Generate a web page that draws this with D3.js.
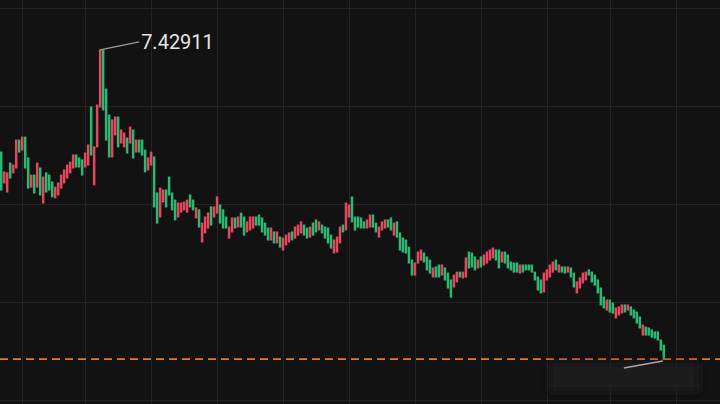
<!DOCTYPE html>
<html>
<head>
<meta charset="utf-8">
<script src="https://cdn.jsdelivr.net/npm/d3@7"></script>
<style>
  html, body { margin: 0; padding: 0; background: #121212; }
  svg { display: block; }
</style>
</head>
<body>
<div id="chart"></div>
<script>
// Bars, left to right (open / close)
const opens = [
  7.012, 6.886, 6.849, 6.967, 6.927, 6.947, 7.061, 7.020, 7.073, 6.988,
  6.869, 6.918, 6.869, 6.947, 6.804, 6.927, 6.918, 6.890, 6.825, 6.837,
  6.865, 6.886, 6.906, 6.927, 6.947, 7.000, 6.988, 6.980, 6.951, 6.959,
  7.196, 6.878, 7.033, 7.196, 7.429, 7.269, 7.163, 6.992, 7.082, 7.155,
  7.049, 7.033, 7.069, 7.049, 7.102, 7.012, 7.061, 7.061, 7.020, 6.939,
  6.959, 6.992, 6.845, 6.747, 6.808, 6.857, 6.910, 6.845, 6.816, 6.747,
  6.767, 6.776, 6.767, 6.837, 6.816, 6.743, 6.776, 6.645, 6.682, 6.702,
  6.788, 6.747, 6.763, 6.796, 6.776, 6.747, 6.661, 6.686, 6.743, 6.706,
  6.763, 6.747, 6.686, 6.694, 6.702, 6.747, 6.755, 6.743, 6.722, 6.702,
  6.653, 6.686, 6.641, 6.665, 6.612, 6.633, 6.645, 6.686, 6.661, 6.673,
  6.682, 6.714, 6.702, 6.665, 6.722, 6.735, 6.694, 6.714, 6.706, 6.702,
  6.673, 6.600, 6.604, 6.641, 6.714, 6.694, 6.747, 6.829, 6.747, 6.747,
  6.743, 6.727, 6.702, 6.706, 6.755, 6.722, 6.665, 6.694, 6.702, 6.735,
  6.743, 6.673, 6.727, 6.682, 6.661, 6.653, 6.624, 6.571, 6.510, 6.559,
  6.571, 6.600, 6.584, 6.571, 6.502, 6.543, 6.551, 6.510, 6.539, 6.518,
  6.490, 6.461, 6.482, 6.522, 6.498, 6.502, 6.604, 6.600, 6.584, 6.539,
  6.584, 6.551, 6.559, 6.571, 6.580, 6.612, 6.612, 6.563, 6.604, 6.592,
  6.563, 6.559, 6.559, 6.518, 6.551, 6.551, 6.551, 6.551, 6.522, 6.502,
  6.490, 6.441, 6.490, 6.502, 6.522, 6.571, 6.522, 6.543, 6.543, 6.522,
  6.539, 6.518, 6.437, 6.457, 6.478, 6.490, 6.531, 6.522, 6.510, 6.490,
  6.457, 6.420, 6.367, 6.408, 6.396, 6.335, 6.347, 6.355, 6.388, 6.367,
  6.380, 6.367, 6.359, 6.339, 6.265, 6.298, 6.294, 6.286, 6.278, 6.278,
  6.245, 6.224
];
const closes = [
  6.857, 6.931, 6.927, 6.906, 6.959, 7.061, 7.012, 7.073, 6.947, 6.865,
  6.918, 6.845, 6.967, 6.837, 6.910, 6.849, 6.857, 6.829, 6.869, 6.886,
  6.918, 6.939, 6.959, 6.971, 7.000, 6.951, 6.951, 6.918, 7.008, 7.041,
  7.000, 7.033, 7.204, 7.429, 7.184, 7.061, 6.992, 7.143, 7.155, 7.033,
  7.102, 7.090, 7.008, 7.114, 6.988, 7.061, 7.012, 7.000, 6.931, 6.988,
  7.012, 6.788, 6.722, 6.865, 6.857, 6.788, 6.837, 6.776, 6.735, 6.804,
  6.804, 6.808, 6.816, 6.788, 6.776, 6.784, 6.706, 6.722, 6.747, 6.763,
  6.714, 6.788, 6.829, 6.722, 6.702, 6.702, 6.706, 6.743, 6.702, 6.747,
  6.706, 6.673, 6.727, 6.747, 6.747, 6.714, 6.714, 6.686, 6.673, 6.653,
  6.702, 6.641, 6.686, 6.624, 6.661, 6.673, 6.682, 6.653, 6.706, 6.714,
  6.727, 6.673, 6.661, 6.706, 6.673, 6.686, 6.727, 6.682, 6.661, 6.641,
  6.620, 6.653, 6.665, 6.706, 6.686, 6.804, 6.796, 6.727, 6.694, 6.706,
  6.702, 6.702, 6.735, 6.755, 6.706, 6.686, 6.706, 6.727, 6.735, 6.706,
  6.694, 6.722, 6.665, 6.612, 6.604, 6.600, 6.559, 6.510, 6.559, 6.604,
  6.612, 6.563, 6.531, 6.518, 6.539, 6.502, 6.502, 6.551, 6.490, 6.457,
  6.420, 6.510, 6.522, 6.502, 6.522, 6.580, 6.539, 6.543, 6.531, 6.571,
  6.543, 6.592, 6.604, 6.612, 6.620, 6.571, 6.539, 6.604, 6.559, 6.539,
  6.531, 6.522, 6.522, 6.551, 6.522, 6.531, 6.531, 6.522, 6.490, 6.449,
  6.437, 6.518, 6.531, 6.551, 6.563, 6.531, 6.551, 6.522, 6.518, 6.543,
  6.502, 6.461, 6.482, 6.498, 6.518, 6.522, 6.510, 6.482, 6.469, 6.437,
  6.388, 6.376, 6.408, 6.359, 6.355, 6.376, 6.380, 6.388, 6.359, 6.388,
  6.347, 6.335, 6.314, 6.294, 6.306, 6.265, 6.265, 6.257, 6.253, 6.245,
  6.204, 6.167
];
// Horizontal grid prices and vertical grid positions (bar index)
const gridPrices = [7.6, 7.2, 6.8, 6.4, 6.0];
const gridBars = [7, 28, 50, 72, 94, 116, 138, 160, 182, 203, 225];
const highValue = 7.42911;

const width = 720, height = 404;
const upColor = '#e4485f', downColor = '#2cb872';

const data = opens.map((o, i) => ({ i: i, open: o, close: closes[i] }));

const x = d3.scaleLinear()
    .domain([0, data.length - 1])
    .range([1.2, 663.8]);

const y = d3.scaleLinear()
    .domain([6.0, 7.6])
    .range([400, 8]);

const svg = d3.select('#chart').append('svg')
    .attr('width', width)
    .attr('height', height)
    .style('background', '#121212');

// blur filter for the smudged low label
const defs = svg.append('defs');
defs.append('filter')
    .attr('id', 'smudge')
    .attr('x', '-20%').attr('y', '-60%').attr('width', '140%').attr('height', '220%')
    .append('feGaussianBlur')
    .attr('stdDeviation', 5);

// Grid
svg.append('g')
    .selectAll('line')
    .data(gridPrices)
    .enter().append('line')
    .attr('x1', 0)
    .attr('x2', width)
    .attr('y1', d => Math.round(y(d)) + 0.5)
    .attr('y2', d => Math.round(y(d)) + 0.5)
    .attr('stroke', '#232323');

svg.append('g')
    .selectAll('line')
    .data(gridBars)
    .enter().append('line')
    .attr('x1', d => Math.round(x(d)) + 0.5)
    .attr('x2', d => Math.round(x(d)) + 0.5)
    .attr('y1', 0)
    .attr('y2', height)
    .attr('stroke', '#232323');

// Bars
svg.append('g')
    .selectAll('rect')
    .data(data)
    .enter().append('rect')
    .attr('x', d => x(d.i) - 1.25)
    .attr('width', 2.5)
    .attr('y', d => y(Math.max(d.open, d.close)) - 0.5)
    .attr('height', d => Math.max(2, Math.abs(y(d.open) - y(d.close)) + 1))
    .attr('fill', d => d.close >= d.open ? upColor : downColor);

// Last price dashed line
const last = data[data.length - 1];
svg.append('line')
    .attr('x1', 0)
    .attr('x2', width)
    .attr('y1', y(last.close))
    .attr('y2', y(last.close))
    .attr('stroke', '#e8782e')
    .attr('stroke-width', 1.8)
    .attr('stroke-dasharray', '8,5');

// High marker
const hiIdx = d3.maxIndex(data, d => Math.max(d.open, d.close));
const hx = x(hiIdx), hy = y(highValue);
svg.append('path')
    .attr('d', d3.line()([[hx, hy], [hx + 39, hy - 8]]))
    .attr('fill', 'none')
    .attr('stroke', '#9a9a9a')
    .attr('stroke-width', 1.5);
svg.append('text')
    .attr('x', hx + 41)
    .attr('y', hy - 1)
    .attr('fill', '#e6e6e6')
    .attr('font-family', 'Roboto, sans-serif')
    .attr('font-size', 20)
    .text(d3.format('.5f')(highValue));

// Low marker (label smudged out in the reference)
const lx = x(last.i), ly = y(last.close);
svg.append('rect')
    .attr('x', lx - 115)
    .attr('y', ly + 4)
    .attr('width', 150)
    .attr('height', 28)
    .attr('fill', '#1d1d1d')
    .attr('filter', 'url(#smudge)');
svg.append('path')
    .attr('d', d3.line()([[lx - 1, ly + 2], [lx - 40, ly + 9]]))
    .attr('fill', 'none')
    .attr('stroke', '#a8a8a8')
    .attr('stroke-width', 1.5);
</script>
</body>
</html>
